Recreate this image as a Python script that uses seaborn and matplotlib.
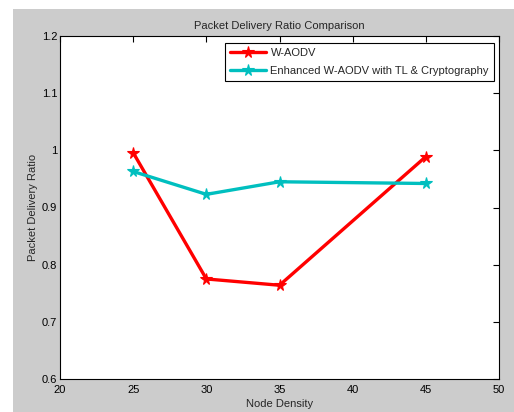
import matplotlib
matplotlib.use("Agg")
import matplotlib.pyplot as plt
import seaborn as sns
import pandas as pd
from matplotlib.patches import Rectangle

node_density = [25, 30, 35, 45]
waodv = [0.996, 0.775, 0.764, 0.989]
enhanced = [0.963, 0.923, 0.945, 0.942]
series_names = ["W-AODV", "Enhanced W-AODV with TL & Cryptography"]
x_ticks = [20, 25, 30, 35, 40, 45, 50]
y_ticks = [0.6, 0.7, 0.8, 0.9, 1.0, 1.1, 1.2]
y_tick_labels = ["0.6", "0.7", "0.8", "0.9", "1", "1.1", "1.2"]

df = pd.DataFrame({
    "Node Density": node_density * 2,
    "PDR": waodv + enhanced,
    "Series": [series_names[0]] * len(node_density) + [series_names[1]] * len(node_density),
})

sns.set_style("white")
plt.rcParams["font.family"] = ["Liberation Sans", "DejaVu Sans"]
plt.rcParams["font.size"] = 8

fig = plt.figure(figsize=(5.14, 4.12), dpi=100, facecolor="white")
fig.patches.append(Rectangle((13 / 514, 0), 1 - 13 / 514, 1 - 9 / 412,
                             transform=fig.transFigure, facecolor="#cccccc",
                             edgecolor="none", zorder=-10))
ax = fig.add_axes([60 / 514, 1 - 379 / 412, (499 - 60) / 514, (379 - 36) / 412])
ax.set_facecolor("white")

palette = {series_names[0]: "#ff0000", series_names[1]: "#00bfbf"}
sns.lineplot(data=df, x="Node Density", y="PDR", hue="Series", palette=palette,
             marker="*", markersize=8.5, markeredgewidth=0.8, linewidth=2.4,
             ax=ax, legend=True)
for ln in ax.lines:
    ln.set_markeredgecolor(ln.get_color())

ax.set_xlim(20, 50)
ax.set_ylim(0.6, 1.2)
ax.set_xticks(x_ticks)
ax.set_xticklabels([str(t) for t in x_ticks])
ax.set_yticks(y_ticks)
ax.set_yticklabels(y_tick_labels)
ax.tick_params(direction="in", length=4, width=0.8, top=True, right=True,
               labelsize=8, colors="black", pad=2)
ax.tick_params(axis="x", pad=4)
for s in ax.spines.values():
    s.set_visible(True)
    s.set_color("black")
    s.set_linewidth(0.8)

ax.set_title("Packet Delivery Ratio Comparison", fontsize=8, pad=5)
ax.set_xlabel("Node Density", fontsize=8, labelpad=3)
ax.set_ylabel("Packet Delivery Ratio", fontsize=8, labelpad=3)

leg = ax.legend(loc="upper right", bbox_to_anchor=(1 - 5 / 439, 1 - 7 / 343), fontsize=8,
                frameon=True, fancybox=False, edgecolor="black", framealpha=1,
                borderpad=0.45, labelspacing=0.7, handlelength=3.2,
                handletextpad=0.45, borderaxespad=0)
leg.get_frame().set_linewidth(0.8)

fig.savefig("out.png", dpi=100, facecolor=fig.get_facecolor())
